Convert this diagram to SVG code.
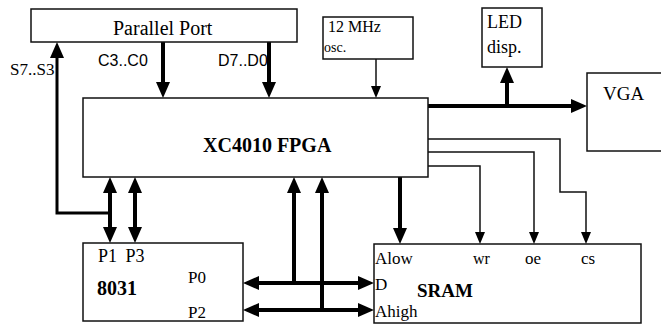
<svg xmlns="http://www.w3.org/2000/svg" width="661" height="334" viewBox="0 0 661 334">
<style>
.box{fill:#fff;stroke:#111;stroke-width:1.5}
.bus{fill:none;stroke:#000;stroke-width:4}
.bus3{fill:none;stroke:#000;stroke-width:3}
.sig{fill:none;stroke:#111;stroke-width:1.5}
text{font-family:"Liberation Serif","Times New Roman",serif;fill:#000}
.sans{font-family:"Liberation Sans",Arial,sans-serif}
.b{font-weight:bold}
</style>
<defs>
<marker id="ah" markerUnits="userSpaceOnUse" markerWidth="16" markerHeight="14" refX="10" refY="7" orient="auto-start-reverse" viewBox="0 0 16 14">
<path d="M0,0 L16,7 L0,14 z" fill="#000"/>
</marker>
<marker id="at" markerUnits="userSpaceOnUse" markerWidth="12" markerHeight="10" refX="8" refY="5" orient="auto-start-reverse" viewBox="0 0 12 10">
<path d="M0,0 L12,5 L0,10 z" fill="#000"/>
</marker>
</defs>
<rect width="661" height="334" fill="#fff"/>
<g id="connectors">
<path class="bus" d="M163 42 V92" marker-end="url(#ah)"/>
<path class="bus" d="M269 42 V92" marker-end="url(#ah)"/>
<path class="bus3" d="M110 213 H57 V48" marker-end="url(#ah)"/>
<path class="bus" d="M110 183 V237" marker-start="url(#ah)" marker-end="url(#ah)"/>
<path class="bus" d="M135 183 V237" marker-start="url(#ah)" marker-end="url(#ah)"/>
<path class="sig" d="M376 59 V94" marker-end="url(#at)"/>
<path class="bus" d="M507 106 V73" marker-end="url(#ah)"/>
<path class="bus" d="M428 106 H581" marker-end="url(#ah)"/>
<path class="bus" d="M400 177 V238" marker-end="url(#ah)"/>
<path class="sig" d="M428 166 H480 V240" marker-end="url(#at)"/>
<path class="sig" d="M428 152 H534 V240" marker-end="url(#at)"/>
<path class="sig" d="M428 139 H560 V192 H586 V240" marker-end="url(#at)"/>
<path class="bus" d="M249 283 H368" marker-start="url(#ah)" marker-end="url(#ah)"/>
<path class="bus" d="M249 310 H368" marker-start="url(#ah)" marker-end="url(#ah)"/>
<path class="bus" d="M294 283 V183" marker-end="url(#ah)"/>
<path class="bus" d="M322 310 V183" marker-end="url(#ah)"/>
<text x="10" y="75" font-size="17">S7..S3</text>
<text class="sans" x="98" y="66" font-size="16">C3..C0</text>
<text class="sans" x="218" y="66" font-size="16">D7..D0</text>
</g>
<g id="parallel-port">
<rect class="box" x="31" y="9" width="266" height="33"/>
<text x="113" y="35" font-size="20">Parallel Port</text>
</g>
<g id="osc">
<rect class="box" x="323" y="17" width="90" height="42"/>
<text x="328" y="32" font-size="16">12 MHz</text>
<text x="324" y="52" font-size="14">osc.</text>
</g>
<g id="led">
<rect class="box" x="482" y="8" width="60" height="59"/>
<text x="487" y="28" font-size="18">LED</text>
<text x="487" y="53" font-size="18">disp.</text>
</g>
<g id="vga">
<rect class="box" x="587" y="73" width="80" height="78"/>
<text x="603" y="100" font-size="19">VGA</text>
</g>
<g id="fpga">
<rect class="box" x="83" y="98" width="345" height="79"/>
<text class="b" x="203" y="152" font-size="20">XC4010 FPGA</text>
</g>
<g id="mcu8031">
<rect class="box" x="83" y="243" width="160" height="78"/>
<text x="98" y="262" font-size="18" word-spacing="4">P1 P3</text>
<text class="b" x="97" y="295" font-size="20">8031</text>
<text x="188" y="283" font-size="17">P0</text>
<text x="188" y="318" font-size="17">P2</text>
</g>
<g id="sram">
<rect class="box" x="374" y="244" width="267" height="79"/>
<text x="375" y="264" font-size="17">Alow</text>
<text x="473" y="264" font-size="16">wr</text>
<text x="525" y="264" font-size="17">oe</text>
<text x="581" y="264" font-size="17">cs</text>
<text x="375" y="290" font-size="17">D</text>
<text class="b" x="417" y="297" font-size="19">SRAM</text>
<text x="375" y="317" font-size="17">Ahigh</text>
</g>
</svg>
